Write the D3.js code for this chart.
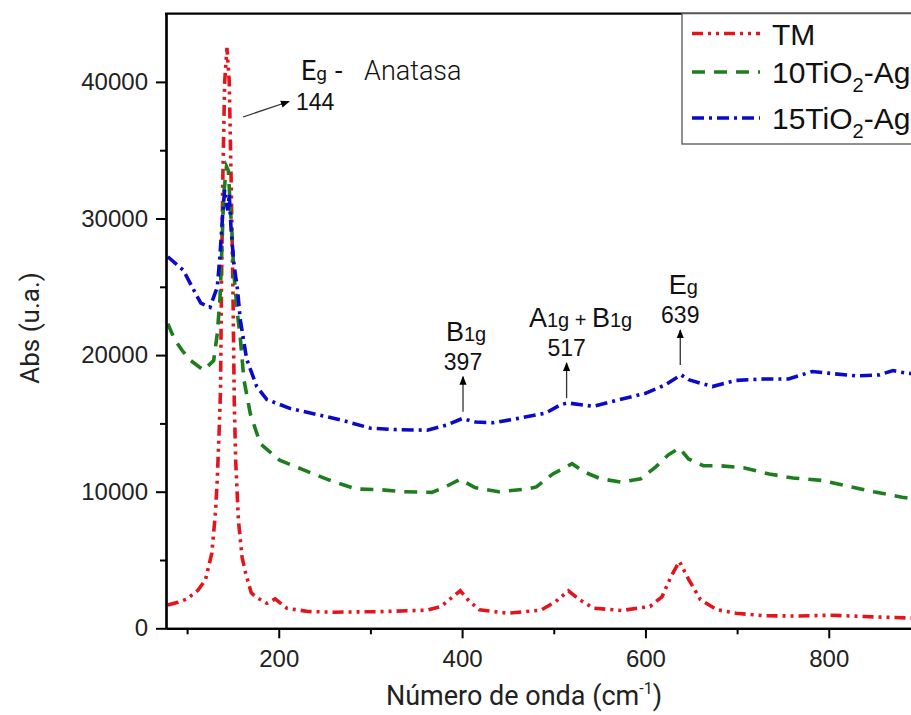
<!DOCTYPE html>
<html>
<head>
<meta charset="utf-8">
<script src="https://cdn.jsdelivr.net/npm/d3@7"></script>
<style>
  body { margin: 0; background: #fff; }
  svg { display: block; }
  .tick text { font-family: "Liberation Sans", Arial, sans-serif; font-size: 24px; fill: #222; }
</style>
</head>
<body>
<div id="chart"></div>
<script>
// Raman spectra: [wavenumber cm-1, intensity]
var tmData = [
  [79,1700],[90,1900],[100,2150],[112,2800],[120,3540],[127,5500],[131,8500],[133,11000],
  [135,14500],[136.5,17500],[137.5,25000],[139,33000],[141,40000],[143.5,42500],[146,40000],
  [148,33000],[150,25000],[151.5,16500],[153,12300],[156,7900],[160,5200],[164,4000],[170,2600],
  [175,2300],[187,1830],[196,2150],[209,1460],[232,1230],[260,1180],[310,1220],[362,1330],[377,1600],
  [398,2750],[408,1970],[419,1360],[450,1100],[486,1330],[502,1950],[516,2750],[528,2100],
  [543,1480],[574,1300],[605,1600],[618,2300],[628,3800],[637,4900],[647,3600],[660,2100],
  [678,1360],[699,1100],[730,920],[766,900],[803,960],[839,860],[884,760],[900,720]
];
var ag10Data = [
  [79,22300],[86,21200],[95,20300],[104,19600],[118,18900],[129,19600],[133,21600],[136,24300],
  [138,27900],[140,31800],[143,33800],[145,33500],[147,31000],[149,28900],[151,26000],[155,23000],
  [158,21300],[162,18200],[169,15700],[180,13500],[201,12300],[227,11600],[253,10900],[284,10200],
  [310,10150],[336,10000],[367,9950],[380,10300],[398,10900],[414,10300],[440,10000],[471,10200],
  [481,10350],[499,11300],[520,12050],[533,11450],[551,10950],[574,10700],[595,10950],[611,11800],
  [625,12700],[637,13200],[647,12400],[663,11900],[681,11900],[707,11750],[735,11300],[761,11000],
  [792,10830],[818,10450],[849,10000],[880,9600],[900,9400]
];
var ag15Data = [
  [79,27200],[96,26200],[107,24800],[115,23800],[125,23500],[133,25000],[136,27400],[139,30500],
  [141,32100],[143,31000],[144.5,30600],[146,31800],[148,29200],[151,26700],[155,24800],[158,22600],
  [165,19700],[176,17700],[187,16750],[212,16100],[238,15700],[268,15250],[300,14650],[326,14550],
  [362,14500],[383,14880],[400,15350],[415,15100],[434,15050],[460,15350],[491,15750],[507,16350],
  [515,16500],[543,16250],[569,16700],[600,17200],[621,17800],[639,18550],[647,18200],[673,17700],
  [699,18150],[730,18250],[756,18250],[782,18800],[803,18650],[829,18480],[855,18550],[870,18870],
  [884,18680],[900,18600]
];

var seriesNames = ["TM", "10TiO2-Ag", "15TiO2-Ag"];
var xMajorTicks = [200, 400, 600, 800];
var xMinorTicks = [100, 300, 500, 700];
var yMajorTicks = [0, 10000, 20000, 30000, 40000];
var yMinorTicks = [5000, 15000, 25000, 35000];

// peak marks: label lines, wavenumber of the arrow, arrow tail/tip intensity
var peakLabels = [
  {main: "B", sub: "1g", num: "397", at: 401, tail: 15860, tip: 18420},
  {main: "A", sub: "1g", extra: "B", num: "517", at: 514, tail: 16850, tip: 19420},
  {main: "E", sub: "g", num: "639", at: 638, tail: 19270, tip: 21830}
];

var svgWidth = 911;
var svgHeight = 715;

var margin = {top: 13.6, left: 166, bottom: 628.3};

var svg = d3.select("#chart")
  .append("svg")
  .attr("width", svgWidth)
  .attr("height", svgHeight);

// plot runs past the right edge of the window, like the picture
var x = d3.scaleLinear().domain([77, 900]).range([margin.left, margin.left + 823 * 0.9167]);
var y = d3.scaleLinear().domain([0, 45000]).range([margin.bottom, margin.top]);

svg.append("clipPath").attr("id", "plotclip")
  .append("rect")
  .attr("x", margin.left).attr("y", margin.top)
  .attr("width", 1000).attr("height", margin.bottom - margin.top);

// curves
var line = d3.line().x(d => x(d[0])).y(d => y(d[1]));

var styles = [
  {data: tmData, color: "#e3141b", dash: "11,5,3,5,3,5"},
  {data: ag10Data, color: "#1e7d1e", dash: "13,9"},
  {data: ag15Data, color: "#0a0ac8", dash: "12,5,3,5"}
];

var curves = svg.append("g").attr("clip-path", "url(#plotclip)");
styles.forEach(function(s) {
  curves.append("path")
    .attr("d", line(s.data))
    .attr("fill", "none")
    .attr("stroke", s.color)
    .attr("stroke-width", 3.6)
    .attr("stroke-dasharray", s.dash);
});

// axes
var xAxis = svg.append("g")
  .attr("transform", `translate(0, ${margin.bottom})`)
  .call(d3.axisBottom(x).tickValues(xMajorTicks).tickSize(10).tickPadding(12).tickSizeOuter(0));
svg.append("g")
  .attr("transform", `translate(0, ${margin.bottom})`)
  .call(d3.axisBottom(x).tickValues(xMinorTicks).tickSize(6).tickFormat("").tickSizeOuter(0));

var yAxis = svg.append("g")
  .attr("transform", `translate(${margin.left}, 0)`)
  .call(d3.axisLeft(y).tickValues(yMajorTicks).tickSize(10).tickPadding(8).tickSizeOuter(0).tickFormat(d3.format("d")));
svg.append("g")
  .attr("transform", `translate(${margin.left}, 0)`)
  .call(d3.axisLeft(y).tickValues(yMinorTicks).tickSize(6).tickFormat("").tickSizeOuter(0));

svg.selectAll(".domain").attr("stroke", "#000").attr("stroke-width", 2.2);
svg.selectAll(".tick line").attr("stroke", "#000").attr("stroke-width", 2);

// top frame line
svg.append("line")
  .attr("x1", margin.left - 1).attr("x2", svgWidth)
  .attr("y1", margin.top).attr("y2", margin.top)
  .attr("stroke", "#000").attr("stroke-width", 2.2);

// axis titles
var titleFont = "Roboto, 'DejaVu Sans', sans-serif";
var xTitle = svg.append("text")
  .attr("x", 524).attr("y", 705)
  .attr("text-anchor", "middle")
  .style("font-family", titleFont).style("font-size", "27px").style("fill", "#222");
xTitle.append("tspan").text("Número de onda (cm");
xTitle.append("tspan").attr("dy", -11).style("font-size", "16px").text("-1");
xTitle.append("tspan").attr("dy", 11).text(")");

svg.append("text")
  .attr("transform", "translate(39, 328) rotate(-90)")
  .attr("text-anchor", "middle")
  .style("font-family", titleFont).style("font-size", "26px").style("fill", "#222")
  .text("Abs (u.a.)");

// arrow head marker
svg.append("defs").append("marker")
  .attr("id", "head")
  .attr("viewBox", "0 0 10 10")
  .attr("refX", 9).attr("refY", 5)
  .attr("markerWidth", 9).attr("markerHeight", 9)
  .attr("markerUnits", "userSpaceOnUse")
  .attr("orient", "auto")
  .append("path").attr("d", "M0,1 L10,5 L0,9 Z").attr("fill", "#000");

var annoFont = "'Liberation Sans', Arial, sans-serif";

// Eg - Anatasa / 144
var eg = svg.append("text")
  .attr("x", 301).attr("y", 80)
  .style("font-family", titleFont).style("font-size", "27px").style("fill", "#111");
eg.append("tspan").text("E");
eg.append("tspan").style("font-size", "19px").text("g");
eg.append("tspan").attr("x", 335).text("-");
eg.append("tspan").attr("x", 364).style("font-weight", 300).text("Anatasa");
svg.append("text")
  .attr("x", 296).attr("y", 110)
  .style("font-family", annoFont).style("font-size", "23px").style("fill", "#111")
  .text("144");
svg.append("line")
  .attr("x1", 243).attr("y1", 117).attr("x2", 289).attr("y2", 101.5)
  .attr("stroke", "#333").attr("stroke-width", 1.3)
  .attr("marker-end", "url(#head)");

// the three peak marks above the blue curve
peakLabels.forEach(function(p) {
  var px = x(p.at);
  svg.append("line")
    .attr("x1", px).attr("x2", px)
    .attr("y1", y(p.tail)).attr("y2", y(p.tip))
    .attr("stroke", "#333").attr("stroke-width", 1.3)
    .attr("marker-end", "url(#head)");
  var numY = y(p.tip) - 7;
  svg.append("text")
    .attr("x", px).attr("y", numY)
    .attr("text-anchor", "middle")
    .style("font-family", annoFont).style("font-size", "23px").style("fill", "#111")
    .text(p.num);
  var t = svg.append("text")
    .attr("x", px + (p.extra ? 14 : 3)).attr("y", numY - 29)
    .attr("text-anchor", "middle")
    .style("font-family", annoFont).style("font-size", "27px").style("fill", "#111");
  t.append("tspan").text(p.main);
  t.append("tspan").style("font-size", "20px").text(p.sub);
  if (p.extra) {
    t.append("tspan").style("font-size", "20px").text(" + ");
    t.append("tspan").text(p.extra);
    t.append("tspan").style("font-size", "20px").text(p.sub);
  }
});

// legend (cut by the window edge, like the picture)
var legend = svg.append("g");
legend.append("rect")
  .attr("x", 682).attr("y", margin.top)
  .attr("width", 260).attr("height", 144 - margin.top)
  .attr("fill", "#fff").attr("stroke", "#555").attr("stroke-width", 1.3);
var legendY = [33.5, 72, 118];
styles.forEach(function(s, i) {
  legend.append("line")
    .attr("x1", 692).attr("x2", 760)
    .attr("y1", legendY[i]).attr("y2", legendY[i])
    .attr("stroke", s.color).attr("stroke-width", 3.6)
    .attr("stroke-dasharray", s.dash);
  var lt = legend.append("text")
    .attr("x", 772).attr("y", legendY[i] + 11)
    .style("font-family", annoFont).style("font-size", "30px").style("fill", "#111");
  var name = seriesNames[i];
  if (name.indexOf("TiO2") >= 0) {
    var parts = name.split("2");
    lt.append("tspan").text(parts[0]);
    lt.append("tspan").attr("dy", 9).style("font-size", "20px").text("2");
    lt.append("tspan").attr("dy", -9).text(parts[1]);
  } else {
    lt.text(name);
  }
});
</script>
</body>
</html>
